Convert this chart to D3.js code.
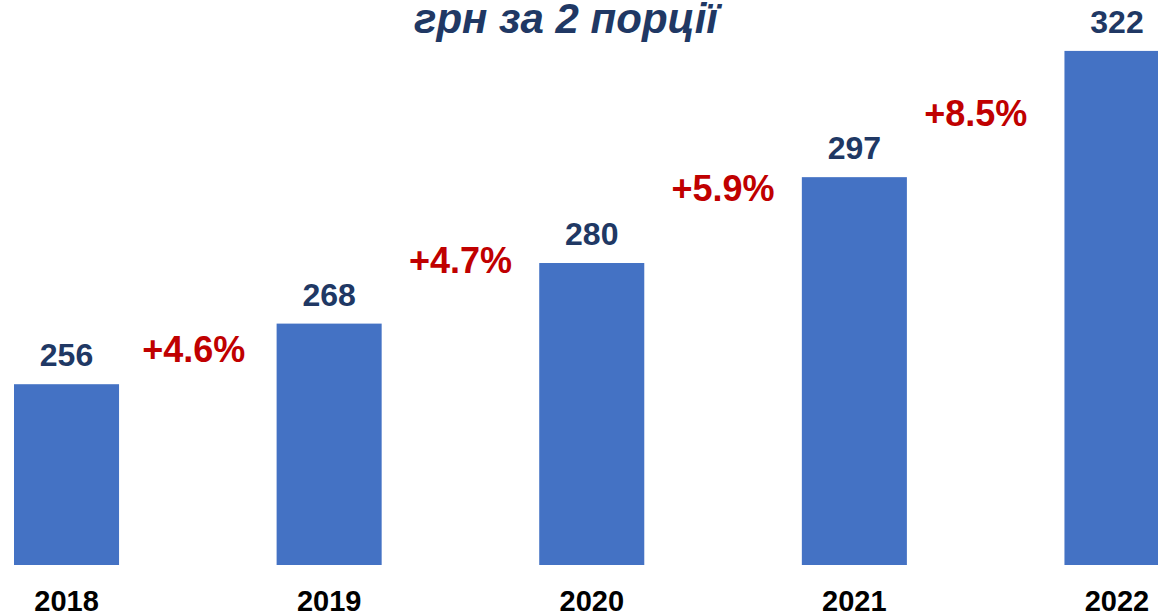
<!DOCTYPE html>
<html>
<head>
<meta charset="utf-8">
<script src="https://cdn.jsdelivr.net/npm/d3@7"></script>
<style>
  html, body { margin: 0; padding: 0; background: #ffffff; overflow: hidden; }
  svg { display: block; }
</style>
</head>
<body>
<div id="chart"></div>
<script>
// ---- data ----
const titleText = "грн за 2 порції";
const years = ["2018", "2019", "2020", "2021", "2022"];
const prices = [256, 268, 280, 297, 322];
const growthLabels = ["+4.6%", "+4.7%", "+5.9%", "+8.5%"];
// vertical level (in price units) at which each growth label sits
const growthLevels = [260.4, 278.0, 292.2, 307.1];

// ---- layout ----
const W = 1158, H = 615;
const baseY = 565;

const svg = d3.select("#chart").append("svg")
  .attr("width", W).attr("height", H);

const x = d3.scaleBand()
  .domain(years)
  .range([14, 1169.5])
  .paddingInner(0.6)
  .paddingOuter(0);

const y = d3.scaleLinear()
  .domain([220.2, 330])
  .range([baseY, baseY - (330 - 220.2) * 5.05]);

const font = "'Liberation Sans', Arial, Helvetica, sans-serif";

// title
svg.append("text")
  .attr("x", 566).attr("y", 33)
  .attr("text-anchor", "middle")
  .attr("font-family", font)
  .attr("font-style", "italic")
  .attr("font-weight", "bold")
  .attr("font-size", 42)
  .attr("fill", "#203864")
  .text(titleText);

// bars
svg.append("g").selectAll("rect")
  .data(prices)
  .join("rect")
  .attr("x", (d, i) => x(years[i]))
  .attr("y", d => y(d))
  .attr("width", x.bandwidth())
  .attr("height", d => y.range()[0] - y(d))
  .attr("fill", "#4472C4");

// value labels
svg.append("g").selectAll("text")
  .data(prices)
  .join("text")
  .attr("x", (d, i) => x(years[i]) + x.bandwidth() / 2)
  .attr("y", d => y(d) - 18)
  .attr("text-anchor", "middle")
  .attr("font-family", font)
  .attr("font-weight", "bold")
  .attr("font-size", 32)
  .attr("fill", "#203864")
  .text(d => d);

// x axis labels
const xAxis = d3.axisBottom(x).tickSize(0).tickPadding(0);
const gx = svg.append("g")
  .attr("transform", `translate(0, ${baseY})`)
  .call(xAxis);
gx.select(".domain").remove();
gx.selectAll("text")
  .attr("dy", null)
  .attr("y", 46)
  .attr("font-family", font)
  .attr("font-weight", "bold")
  .attr("font-size", 29)
  .attr("fill", "#000000");

// growth labels between bars
svg.append("g").selectAll("text")
  .data(growthLabels)
  .join("text")
  .attr("x", (d, i) => (x(years[i]) + x(years[i + 1]) + x.bandwidth()) / 2 + (i === 3 ? -10 : (i === 0 ? -4 : 0)))
  .attr("y", (d, i) => y(growthLevels[i]))
  .attr("text-anchor", "middle")
  .attr("font-family", font)
  .attr("font-weight", "bold")
  .attr("font-size", 36)
  .attr("fill", "#C00000")
  .text(d => d);
</script>
</body>
</html>
